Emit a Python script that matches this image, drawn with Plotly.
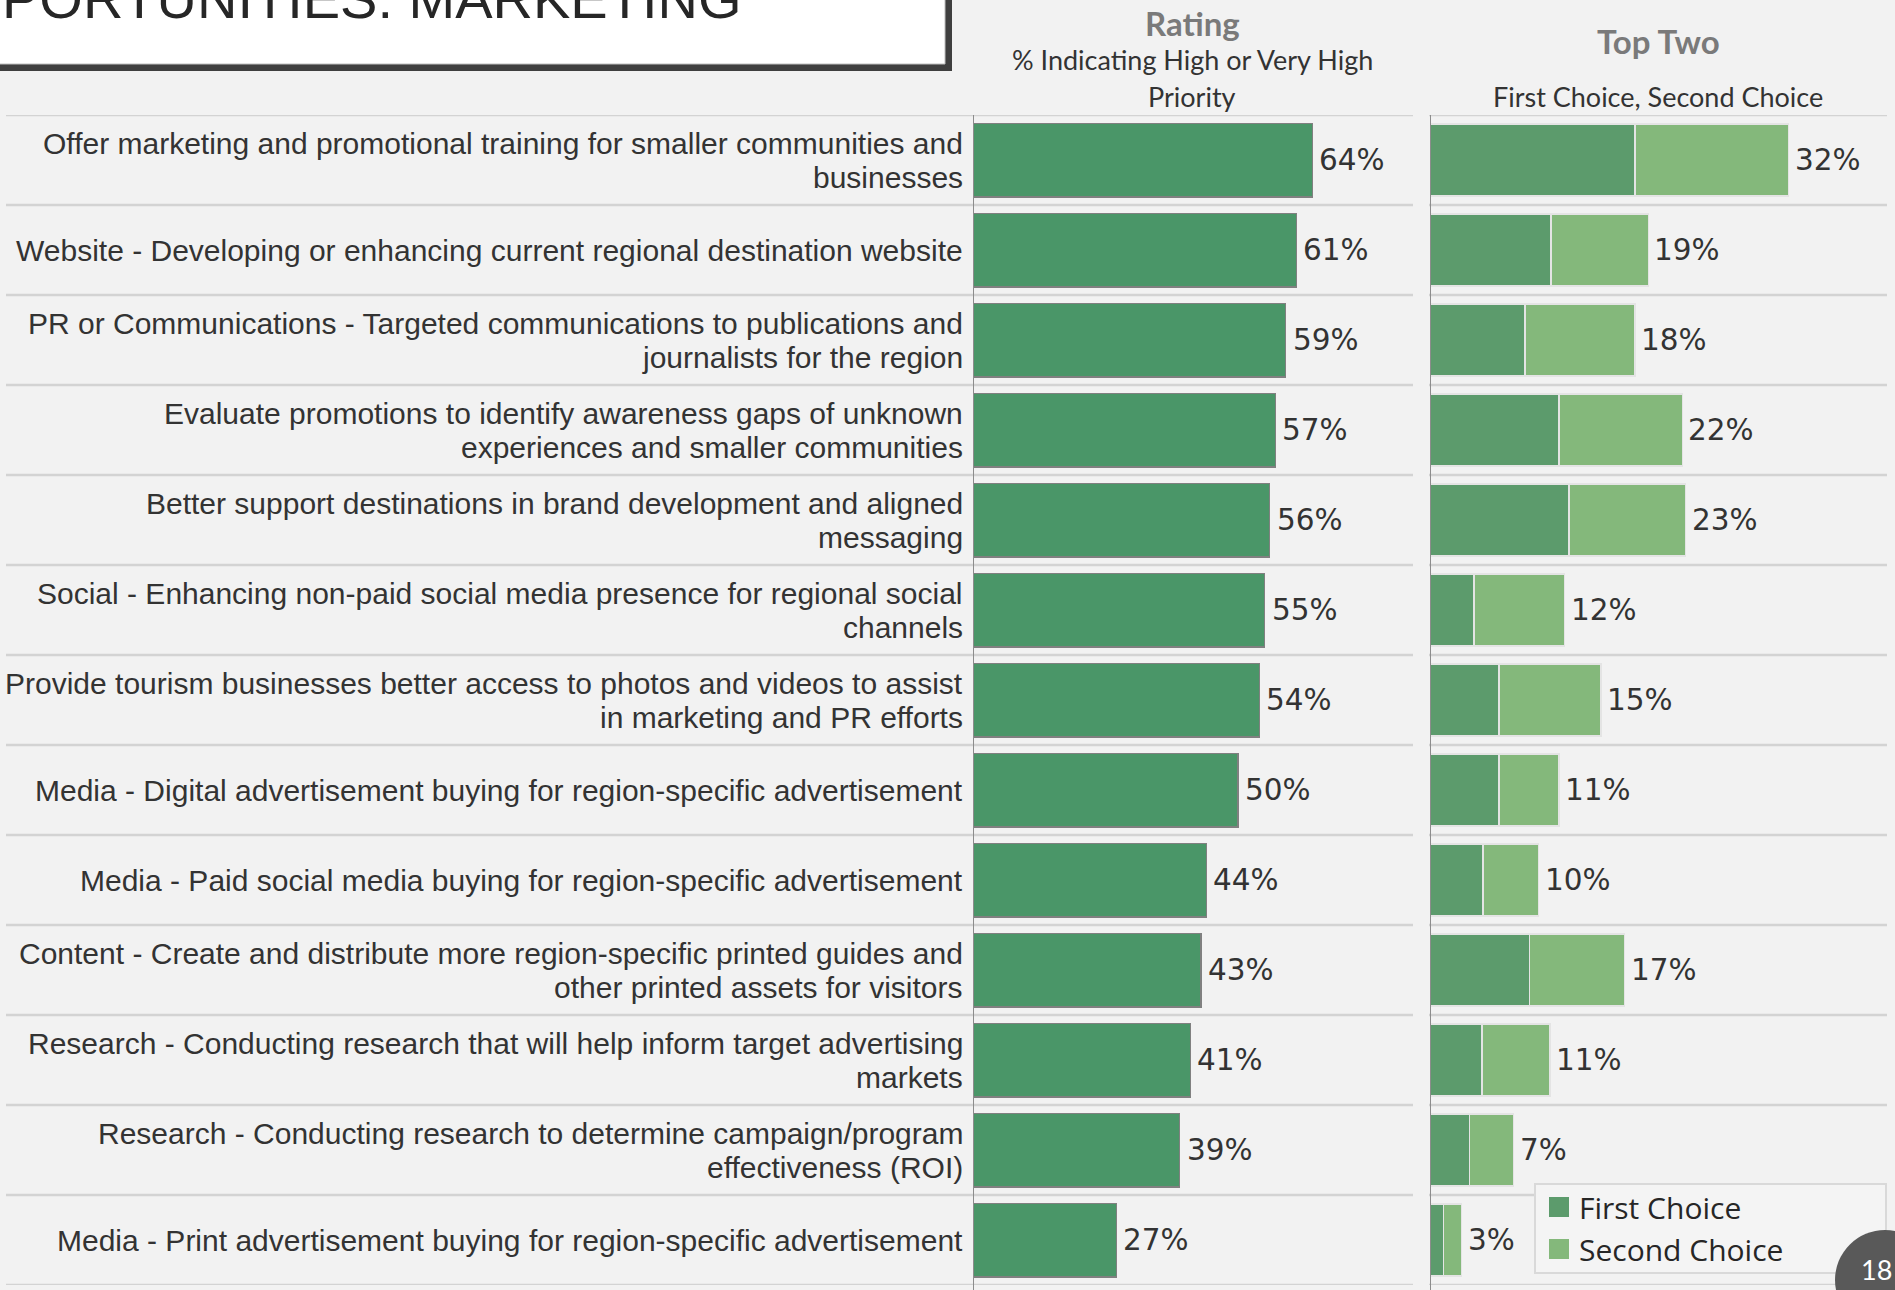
import plotly.graph_objects as go

categories = [
    "Offer marketing and promotional training for smaller communities and<br>businesses",
    "Website - Developing or enhancing current regional destination website",
    "PR or Communications - Targeted communications to publications and<br>journalists for the region",
    "Evaluate promotions to identify awareness gaps of unknown<br>experiences and smaller communities",
    "Better support destinations in brand development and aligned<br>messaging",
    "Social - Enhancing non-paid social media presence for regional social<br>channels",
    "Provide tourism businesses better access to photos and videos to assist<br>in marketing and PR efforts",
    "Media - Digital advertisement buying for region-specific advertisement",
    "Media - Paid social media buying for region-specific advertisement",
    "Content - Create and distribute more region-specific printed guides and<br>other printed assets for visitors",
    "Research - Conducting research that will help inform target advertising<br>markets",
    "Research - Conducting research to determine campaign/program<br>effectiveness (ROI)",
    "Media - Print advertisement buying for region-specific advertisement",
]
rating = [64, 61, 59, 57, 56, 55, 54, 50, 44, 43, 41, 39, 27]
first_choice = [18.1, 10.7, 8.4, 11.4, 12.3, 3.9, 6.1, 6.1, 4.7, 8.8, 4.6, 3.5, 1.2]
second_choice = [13.6, 8.6, 9.7, 10.9, 10.3, 8.0, 9.0, 5.3, 4.9, 8.4, 6.0, 3.9, 1.6]
top_two_total = [a + b for a, b in zip(first_choice, second_choice)]
top_two_labels = [f"{round(t)}%" for t in top_two_total]
rating_labels = [f"{v}%" for v in rating]

W, H = 1895, 1290
def px(x):
    return x / W
def py(y):
    return 1 - y / H

C_RATING = "#4a9668"
C_FIRST = "#5c9b6c"
C_SECOND = "#84b87b"
TXT = "#333333"
LINE = "#d3d3d3"

fig = go.Figure()
fig.add_trace(go.Bar(
    y=categories, x=rating, orientation="h", xaxis="x", yaxis="y", width=0.82,
    marker=dict(color=C_RATING, line=dict(color="#808080", width=1.2)),
    showlegend=False, hoverinfo="skip",
))
fig.add_trace(go.Bar(
    y=categories, x=first_choice, orientation="h", xaxis="x2", yaxis="y", width=0.8,
    marker=dict(color=C_FIRST, line=dict(color="#e4e4e4", width=1.5)),
    showlegend=False, hoverinfo="skip",
))
fig.add_trace(go.Bar(
    y=categories, x=second_choice, orientation="h", xaxis="x2", yaxis="y", width=0.8,
    marker=dict(color=C_SECOND, line=dict(color="#e4e4e4", width=1.5)),
    showlegend=False, hoverinfo="skip",
))
for name, col in [("First Choice", C_FIRST), ("Second Choice", C_SECOND)]:
    fig.add_trace(go.Scatter(
        x=[None], y=[None], mode="markers", xaxis="x2", yaxis="y", name=name,
        marker=dict(symbol="square", size=16, color=col, line=dict(color=col, width=4)),
    ))

shapes = []
# title box with shadow
shapes.append(dict(type="rect", xref="paper", yref="paper", x0=px(-10), x1=px(952), y0=py(71), y1=py(-10),
                   fillcolor="#3f3f3f", line=dict(width=0), layer="below"))
shapes.append(dict(type="rect", xref="paper", yref="paper", x0=px(-10), x1=px(945), y0=py(64), y1=py(-10),
                   fillcolor="#ffffff", line=dict(color="#bfbfbf", width=1), layer="below"))
# row dividers
for i in range(len(categories) + 1):
    yv = i - 0.5
    shapes.append(dict(type="line", xref="paper", yref="y", x0=px(6), x1=px(1413), y0=yv, y1=yv,
                       line=dict(color=LINE, width=2.5), layer="below"))
    shapes.append(dict(type="line", xref="paper", yref="y", x0=px(1429), x1=px(1887), y0=yv, y1=yv,
                       line=dict(color=LINE, width=2.5), layer="below"))
# axis lines
shapes.append(dict(type="line", xref="x", yref="paper", x0=0, x1=0, y0=py(1290), y1=py(115),
                   line=dict(color="#8c8c8c", width=2)))
shapes.append(dict(type="line", xref="x2", yref="paper", x0=0, x1=0, y0=py(1290), y1=py(115),
                   line=dict(color="#8c8c8c", width=2)))
# legend box
shapes.append(dict(type="rect", xref="paper", yref="paper", x0=px(1535), x1=px(1886), y0=py(1273), y1=py(1184),
                   fillcolor="#f4f4f4", line=dict(color="#d9d9d9", width=2)))
# page number circle
shapes.append(dict(type="circle", xref="paper", yref="paper", x0=px(1835), x1=px(1935), y0=py(1330), y1=py(1230),
                   fillcolor="#595959", line=dict(width=0)))

annotations = []
for cat in categories:
    lines = cat.split("<br>")
    n = len(lines)
    for j, ln in enumerate(lines):
        annotations.append(dict(
            xref="paper", yref="y", x=px(965.5), y=cat, xanchor="right", yanchor="middle",
            yshift=((n - 1) / 2 - j) * 34, text=ln, showarrow=False,
            font=dict(family="Liberation Sans, Arial", size=30, color=TXT),
        ))

VF = dict(family="DejaVu Sans", size=29.5, color=TXT)
for cat, v, lab in zip(categories, rating, rating_labels):
    annotations.append(dict(xref="x", yref="y", x=v, y=cat, xanchor="left", yanchor="middle",
                            xshift=5, text=lab, showarrow=False, font=VF))
for cat, v, lab in zip(categories, top_two_total, top_two_labels):
    annotations.append(dict(xref="x2", yref="y", x=v, y=cat, xanchor="left", yanchor="middle",
                            xshift=4, text=lab, showarrow=False, font=VF))

HF = "Lato"
annotations += [
    dict(xref="paper", yref="paper", x=px(0), y=py(-1), xanchor="left", yanchor="middle",
         text="PORTUNITIES: MARKETING", showarrow=False,
         font=dict(family="Liberation Sans", size=56, color="#262626")),
    dict(xref="paper", yref="paper", x=px(1192), y=py(23), xanchor="center", yanchor="middle",
         text="<b>Rating</b>", showarrow=False, font=dict(family=HF, size=33, color="#7a7a7a")),
    dict(xref="paper", yref="paper", x=px(1192), y=py(60), xanchor="center", yanchor="middle",
         text="% Indicating High or Very High", showarrow=False, font=dict(family=HF, size=27, color=TXT)),
    dict(xref="paper", yref="paper", x=px(1192), y=py(97), xanchor="center", yanchor="middle",
         text="Priority", showarrow=False, font=dict(family=HF, size=27, color=TXT)),
    dict(xref="paper", yref="paper", x=px(1658), y=py(41), xanchor="center", yanchor="middle",
         text="<b>Top Two</b>", showarrow=False, font=dict(family=HF, size=33, color="#7a7a7a")),
    dict(xref="paper", yref="paper", x=px(1658), y=py(97), xanchor="center", yanchor="middle",
         text="First Choice, Second Choice", showarrow=False, font=dict(family=HF, size=27, color=TXT)),
    dict(xref="paper", yref="paper", x=px(1876), y=py(1269), xanchor="center", yanchor="middle",
         text="18", showarrow=False, font=dict(family=HF, size=27, color="#ffffff")),
]

fig.update_layout(
    width=W, height=H, margin=dict(l=0, r=0, t=0, b=0),
    paper_bgcolor="#f2f2f2", plot_bgcolor="rgba(0,0,0,0)",
    barmode="stack", bargap=0.18,
    xaxis=dict(domain=[px(973), px(1413)], range=[0, 83], visible=False, anchor="y"),
    xaxis2=dict(domain=[px(1430), px(1887)], range=[0, 40.4], visible=False, anchor="y"),
    yaxis=dict(domain=[py(1285), py(115)], type="category", categoryorder="array",
               categoryarray=categories, range=[len(categories) - 0.5, -0.5],
               showticklabels=False, showgrid=False, zeroline=False, showline=False),
    legend=dict(x=px(1539), y=py(1181), xanchor="left", yanchor="top", traceorder="normal",
                bgcolor="rgba(0,0,0,0)", borderwidth=0, tracegroupgap=0,
                font=dict(family="Open Sans", size=30, color="#262626"), itemwidth=30),
    shapes=shapes, annotations=annotations,
)

fig.write_html("out.html", config={"displayModeBar": False},
               post_script="document.body.style.margin='0';document.body.style.overflow='hidden';")
